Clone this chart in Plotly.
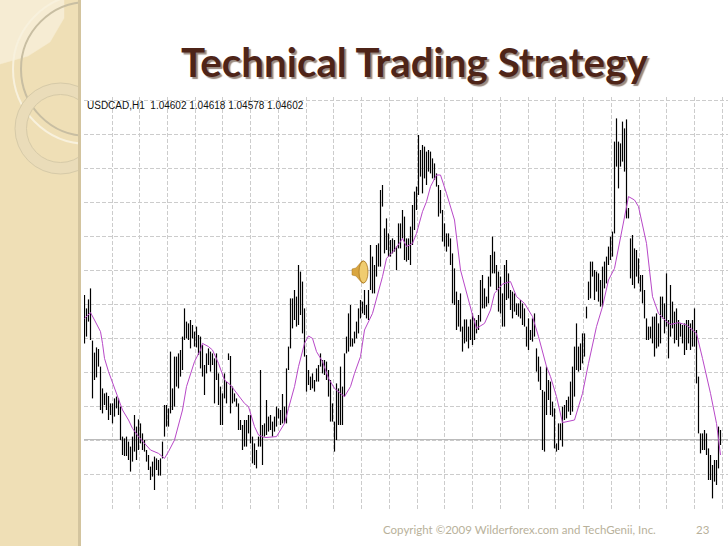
import plotly.graph_objects as go

# hourly highs and lows in points (1 point = 0.00001)
bar_high = [
    105325,105258,105303,105358,105097,105037,105063,105055,104967,104858,
    104833,104837,104820,104783,104783,104808,104817,104808,104767,104617,
    104608,104617,104592,104567,104617,104725,104667,104703,104683,104633,
    104600,104550,104525,104467,104492,104517,104508,104500,104508,104592,
    104775,104775,104758,105042,104858,105017,105017,105033,105050,105117,
    105258,105192,105183,105200,105175,105142,105167,105125,105117,105075,
    104975,105033,105058,105042,105033,105008,105033,104933,104867,104833,
    104933,104892,105033,105020,104867,104833,104808,104783,104700,104675,
    104700,104700,104725,104725,104617,104583,104550,104617,104950,104675,
    104683,104800,104717,104725,104692,104717,104767,104758,104750,104830,
    104767,104958,105067,105308,105308,105350,105317,105475,105442,105392,
    105258,105025,104950,104917,104933,104900,104958,104975,105033,105000,
    105000,104992,104950,104900,104783,104692,104883,104858,104967,104867,
    105033,105117,105233,105275,105108,105142,105192,105258,105300,105292,
    105350,105275,105350,105575,105517,105475,105575,105583,105850,105875,
    105658,105708,105633,105600,105608,105600,105567,105683,
    105683,105750,105717,105608,105608,105667,105775,105842,105867,106125,
    106050,106075,106067,106042,106050,106042,106008,105983,105933,105875,
    105850,105750,105683,105633,105633,105608,105533,105458,105342,105300,
    105333,105167,105203,105203,105167,105203,105233,105208,105200,105225,
    105400,105425,105358,105317,105417,105525,105617,105542,105475,105442,
    105417,105333,105475,105500,105433,105350,105342,105333,105283,105283,
    105300,105283,105258,105167,105208,105150,105208,105233,105058,105017,
    104967,104850,104842,104967,104900,104892,104792,104758,
    104583,104683,104683,104767,104775,104800,104817,104892,104967,105067,
    105183,105067,105083,105133,105133,105267,105392,105492,105492,105450,
    105442,105433,105400,105467,105492,105517,105567,105617,105642,106092,
    106208,106092,106083,106192,106158,106203,105760,105608,105625,105558,
    105550,105508,105425,105425,105350,105208,105167,105167,105217,105217,
    105233,105183,105317,105317,105283,105433,105200,105375,105292,105242,
    105258,105200,105183,105175,105183,105200,105200,105183,105200,105258,
    105150,104917,104633,104633,104650,104633,104558,104525,104475,104500,
    104500,104667,104650,
]
bar_low = [
    105083,105117,105192,105100,104808,104900,104913,104967,104750,104733,
    104775,104750,104700,104725,104683,104717,104758,104725,104600,104525,
    104520,104520,104500,104442,104492,104542,104500,104550,104583,104550,
    104542,104492,104450,104400,104417,104350,104450,104422,104422,104508,
    104617,104667,104667,104733,104750,104767,104867,104858,104917,104950,
    105100,105108,105100,105058,105108,105067,105063,105025,104958,104917,
    104825,104933,104975,104942,104975,104783,104900,104775,104675,104675,
    104808,104783,105000,104733,104783,104792,104767,104650,104650,104550,
    104567,104567,104633,104583,104483,104475,104458,104567,104567,104475,
    104617,104625,104642,104650,104617,104642,104667,104708,104675,104683,
    104683,104683,104950,105058,105158,105200,105167,105175,105225,105133,
    105017,104842,104875,104850,104858,104842,104892,104892,104967,104933,
    104925,104900,104817,104692,104692,104542,104600,104675,104675,104675,
    104817,105033,105042,105067,105067,105083,105108,105133,105208,105233,
    105225,105208,105200,105350,105333,105333,105417,105467,105467,105767,
    105533,105550,105517,105517,105533,105542,105450,105558,
    105558,105608,105500,105492,105500,105475,105575,105650,105750,105825,
    105917,105833,105908,105875,105942,105933,105908,105900,105867,105717,
    105733,105592,105567,105542,105567,105475,105283,105275,105150,105167,
    105142,105042,105083,105092,105058,105100,105075,105100,105133,105150,
    105192,105258,105258,105267,105283,105367,105433,105433,105350,105242,
    105233,105167,105167,105300,105308,105250,105208,105242,105225,105217,
    105208,105175,105167,105067,105050,105100,105092,105117,104942,104892,
    104850,104550,104542,104725,104800,104725,104717,104558,
    104542,104550,104600,104567,104700,104708,104742,104725,104742,104817,
    104950,104942,104950,104983,105017,105208,105300,105308,105417,105300,
    105342,105292,105267,105267,105358,105383,105475,105500,105517,105633,
    105967,105858,105967,105992,105942,105708,105708,105408,105375,105358,
    105417,105383,105342,105283,105208,105100,105100,105108,105083,105017,
    105058,105067,105083,105208,105133,105167,105008,105117,105158,105083,
    105100,105067,105117,105083,105025,105050,105083,105050,105067,105067,
    104883,104633,104533,104550,104550,104525,104400,104400,104308,104392,
    104375,104458,104575,
]

# moving average, read at these bars
ma_bar = [
    0,2,3,5,8,9,10,12,15,17,19,22,24,27,30,33,37,40,42,45,47,49,51,53,55,58,59,62,64,67,70,73,77,80,
    82,85,87,90,96,100,102,105,107,110,112,114,116,119,122,125,128,130,133,135,138,140,144,146,149,151,155,158,
    159,161,164,166,169,171,173,176,178,181,185,188,191,194,196,200,203,205,209,213,216,220,224,227,231,
    233,236,239,245,249,252,256,259,262,265,268,272,275,277,281,284,287,291,293,297,301,306,309,313,316,318,
]
ma_points = [
    105208,105225,105237,105200,105142,105083,105008,104942,104858,104808,104750,104700,104658,104617,104583,104550,104533,104508,
    104542,104600,104675,104750,104867,104925,104992,105050,105083,105067,105050,104983,104900,104875,104825,104783,
    104767,104667,104625,104612,104617,104683,104758,104867,104967,105083,105120,105108,105042,104992,104908,104858,104833,104817,
    104867,104933,105017,105150,105233,105308,105417,105508,105550,105592,
    105608,105567,105583,105633,105742,105792,105867,105925,105925,105833,105700,105450,105333,105225,105158,105183,105250,105333,
    105380,105392,105317,105283,105217,105117,104967,
    104917,104817,104687,104700,104833,104983,105167,105267,105400,105458,105617,105817,105800,105767,105583,105317,105233,105192,
    105178,105187,105175,105133,105008,104833,104683,104525,
]

title = "Technical Trading Strategy"
quote_line = "USDCAD,H1  1.04602 1.04618 1.04578 1.04602"
last_close = 1.04602
footer = "Copyright ©2009 Wilderforex.com and TechGenii, Inc."
page_number = "23"

WIDTH = 728
HEIGHT = 546

def px(x):
    return x / WIDTH

def py(y):
    return 1 - y / HEIGHT

def circle(cx, cy, r, line_color, line_width, fill='rgba(0,0,0,0)'):
    return dict(type='circle', xref='paper', yref='paper', layer='below',
                x0=px(cx - r), x1=px(cx + r), y0=py(cy + r), y1=py(cy - r),
                line=dict(color=line_color, width=line_width), fillcolor=fill)

def rect(x0, y0, x1, y1, color):
    return dict(type='rect', xref='paper', yref='paper', layer='below',
                x0=px(x0), x1=px(x1), y0=py(y1), y1=py(y0),
                line=dict(width=0), fillcolor=color)

def poly(points, color, layer='above', line_color=None):
    d = 'M ' + ' L '.join(f'{px(x):.5f} {py(y):.5f}' for x, y in points) + ' Z'
    return dict(type='path', path=d, xref='paper', yref='paper', layer=layer,
                fillcolor=color, line=dict(color=line_color or color, width=0.5))

# bars as one broken line
bar_x = []
bar_y = []
for i, (h, l) in enumerate(zip(bar_high, bar_low)):
    bar_x += [i, i, None]
    bar_y += [h / 100000, l / 100000, None]

fig = go.Figure()
fig.add_trace(go.Scatter(x=[-0.25, 321.75], y=[last_close, last_close], mode='lines',
                         line=dict(color='#b4b4b4', width=1), hoverinfo='skip'))
fig.add_trace(go.Scatter(x=bar_x, y=bar_y, mode='lines', name='USDCAD,H1',
                         line=dict(color='#000000', width=1.2), connectgaps=False))
fig.add_trace(go.Scatter(x=ma_bar, y=[v / 100000 for v in ma_points], mode='lines', name='MA',
                         line=dict(color='#b848c8', width=1)))

shapes = [
    # left panel
    rect(0, 0, 78, 546, '#efdfb6'),
    poly([(0, 0), (64, 0), (64, 18), (50, 42), (28, 56), (0, 64)], '#f6ecd3', layer='below'),
    circle(88, 69, 75, '#f8f1dd', 2),
    circle(88, 69, 67, '#c8bea2', 2),
    circle(60.5, 128.5, 39.7, '#eadcb9', 11.5),
    circle(60.5, 128.5, 45.5, '#d6caa8', 1),
    circle(60.5, 128.5, 34, '#d6caa8', 1),
    rect(78, 0, 81, 546, '#d3c49e'),
    rect(81, 0, 728, 546, '#ffffff'),
    # speaker icon
    poly([(352, 269), (356, 268), (362, 261), (364, 261), (364, 283), (362, 283), (356, 276), (352, 275)], '#d9a640', line_color='#a8761f'),
    dict(type='circle', xref='paper', yref='paper', layer='above',
         x0=px(359), x1=px(368), y0=py(283), y1=py(261),
         fillcolor='#f0cc70', line=dict(color='#a8761f', width=0.8)),
]

annotations = [
    dict(text=title, x=px(414), y=py(61), xref='paper', yref='paper', showarrow=False,
         xanchor='center', yanchor='middle',
         font=dict(family='Lato', size=40.3, color='#4e2418', weight='bold',
                   shadow='2px 2px 1px #9a8a80')),
    dict(text=quote_line, x=px(85), y=py(105.5), xref='paper', yref='paper', showarrow=False,
         xanchor='left', yanchor='middle',
         font=dict(family='Liberation Sans Narrow, Liberation Sans', size=10, color='#111111')),
    dict(text=footer, x=px(381), y=py(529), xref='paper', yref='paper', showarrow=False,
         xanchor='left', yanchor='middle',
         font=dict(family='Lato', size=11.5, color='#b8b19a')),
    dict(text=page_number, x=px(703), y=py(529), xref='paper', yref='paper', showarrow=False,
         xanchor='center', yanchor='middle',
         font=dict(family='Lato', size=11.5, color='#b8b19a')),
]

fig.update_layout(
    width=WIDTH,
    height=HEIGHT,
    margin=dict(l=0, r=0, t=0, b=0),
    paper_bgcolor='#ffffff',
    plot_bgcolor='rgba(0,0,0,0)',
    showlegend=False,
    shapes=shapes,
    annotations=annotations,
    xaxis=dict(domain=[px(84), 1], range=[-0.25, 321.75], tick0=13.75, dtick=13.87,
               showgrid=True, gridcolor='#cccccc', griddash='4px,2px', gridwidth=1,
               zeroline=False, showline=False, showticklabels=False, ticks=''),
    yaxis=dict(domain=[py(509), py(97)], range=[1.04255, 1.06315], tick0=1.046, dtick=0.0017,
               showgrid=True, gridcolor='#cccccc', griddash='4px,2px', gridwidth=1,
               zeroline=False, showline=False, showticklabels=False, ticks=''),
)

# the page's default body margin would push the figure 8px off the corner
fig.write_html("out.html", config={'displayModeBar': False},
               post_script="document.body.style.margin = '0';")
